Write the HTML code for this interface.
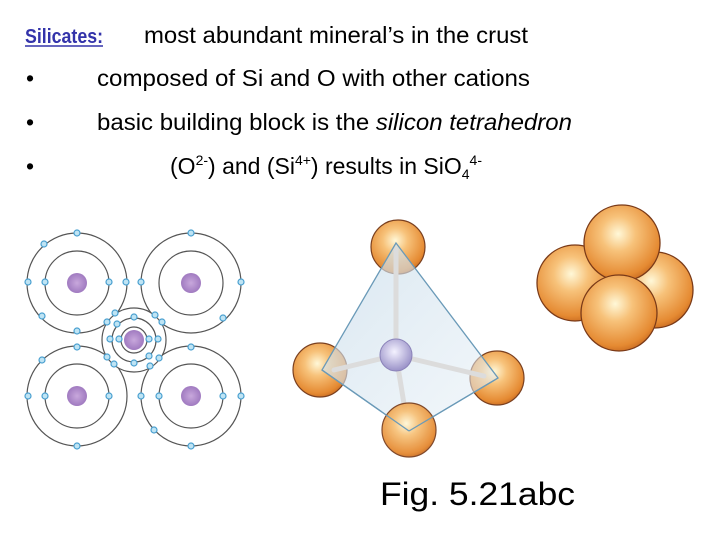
<!DOCTYPE html>
<html><head><meta charset="utf-8"><style>
html,body{margin:0;padding:0;background:#fff;}
svg{display:block}
</style></head><body>
<svg width="720" height="540" viewBox="0 0 720 540" xmlns="http://www.w3.org/2000/svg">
<defs>
<radialGradient id="og" cx="0.45" cy="0.38" r="0.65">
<stop offset="0" stop-color="#fff8d8"/><stop offset="0.35" stop-color="#f7c27a"/><stop offset="0.85" stop-color="#e58a32"/><stop offset="1" stop-color="#c86a20"/>
</radialGradient>
<radialGradient id="sg" cx="0.45" cy="0.4" r="0.6">
<stop offset="0" stop-color="#f4f2ff"/><stop offset="1" stop-color="#9a92c8"/>
</radialGradient>
<radialGradient id="ng" cx="0.5" cy="0.5" r="0.5">
<stop offset="0" stop-color="#c8a8dc"/><stop offset="1" stop-color="#a07ac0"/>
</radialGradient>
<linearGradient id="tg" x1="0" y1="0" x2="1" y2="1">
<stop offset="0" stop-color="#c8dcea" stop-opacity="0.7"/><stop offset="1" stop-color="#e6eff6" stop-opacity="0.5"/>
</linearGradient>
</defs>

<g font-family="Liberation Sans, Arial, sans-serif" font-size="23" fill="#000">
<text x="25" y="43" fill="#3333aa" font-weight="bold" font-size="20" textLength="78" lengthAdjust="spacingAndGlyphs">Silicates:</text>
<line x1="25" y1="46" x2="103" y2="46" stroke="#3333aa" stroke-width="1.5"/>
<text x="144" y="43" textLength="384" lengthAdjust="spacingAndGlyphs">most abundant mineral’s in the crust</text>
<text x="26" y="86">•</text>
<text x="97" y="86" textLength="433" lengthAdjust="spacingAndGlyphs">composed of Si and O with other cations</text>
<text x="26" y="130">•</text>
<text x="97" y="130" textLength="475" lengthAdjust="spacingAndGlyphs">basic building block is the <tspan font-style="italic">silicon tetrahedron</tspan></text>
<text x="26" y="174">•</text>
<text x="170" y="174">(O<tspan font-size="14" dy="-9">2-</tspan><tspan dy="9">) and (Si</tspan><tspan font-size="14" dy="-9">4+</tspan><tspan dy="9">) results in SiO</tspan><tspan font-size="14" dy="5">4</tspan><tspan font-size="14" dy="-14">4-</tspan></text>
<text x="380" y="505" font-size="32" textLength="195" lengthAdjust="spacingAndGlyphs">Fig. 5.21abc</text>
</g>

<!-- atoms -->
<g fill="none" stroke="#555" stroke-width="1.2">
<circle cx="77" cy="283" r="50"/><circle cx="77" cy="283" r="32"/>
<circle cx="191" cy="283" r="50"/><circle cx="191" cy="283" r="32"/>
<circle cx="77" cy="396" r="50"/><circle cx="77" cy="396" r="32"/>
<circle cx="191" cy="396" r="50"/><circle cx="191" cy="396" r="32"/>
<circle cx="134" cy="340" r="32" fill="#fff"/><circle cx="134" cy="340" r="22"/><circle cx="134" cy="340" r="13"/>
</g>
<g fill="url(#ng)">
<circle cx="77" cy="283" r="10"/><circle cx="191" cy="283" r="10"/><circle cx="77" cy="396" r="10"/><circle cx="191" cy="396" r="10"/><circle cx="134" cy="340" r="10"/>
</g>
<g fill="#bfe4f4" stroke="#4aa0d0" stroke-width="1.2">
<circle cx="77" cy="233" r="3"/><circle cx="44" cy="244" r="3"/><circle cx="28" cy="282" r="3"/><circle cx="42" cy="316" r="3"/><circle cx="77" cy="331" r="3"/><circle cx="126" cy="282" r="3"/><circle cx="45" cy="282" r="3"/><circle cx="109" cy="282" r="3"/>
<circle cx="191" cy="233" r="3"/><circle cx="141" cy="282" r="3"/><circle cx="241" cy="282" r="3"/><circle cx="223" cy="318" r="3"/>
<circle cx="77" cy="347" r="3"/><circle cx="42" cy="360" r="3"/><circle cx="28" cy="396" r="3"/><circle cx="77" cy="446" r="3"/><circle cx="45" cy="396" r="3"/><circle cx="109" cy="396" r="3"/>
<circle cx="191" cy="347" r="3"/><circle cx="141" cy="396" r="3"/><circle cx="241" cy="396" r="3"/><circle cx="154" cy="430" r="3"/><circle cx="191" cy="446" r="3"/><circle cx="159" cy="396" r="3"/><circle cx="223" cy="396" r="3"/>
<circle cx="115" cy="313" r="3"/><circle cx="107" cy="322" r="3"/><circle cx="117" cy="324" r="3"/><circle cx="134" cy="317" r="3"/><circle cx="155" cy="315" r="3"/><circle cx="162" cy="322" r="3"/><circle cx="110" cy="339" r="3"/><circle cx="119" cy="339" r="3"/><circle cx="149" cy="339" r="3"/><circle cx="158" cy="339" r="3"/><circle cx="107" cy="357" r="3"/><circle cx="114" cy="364" r="3"/><circle cx="134" cy="363" r="3"/><circle cx="149" cy="356" r="3"/><circle cx="159" cy="358" r="3"/><circle cx="150" cy="366" r="3"/>
</g>

<!-- tetrahedron -->
<g stroke="#7a4020" stroke-width="1.2">
<circle cx="398" cy="247" r="27" fill="url(#og)"/>
<circle cx="320" cy="370" r="27" fill="url(#og)"/>
<circle cx="497" cy="378" r="27" fill="url(#og)"/>
</g>
<polygon points="396,243 322,370 409,431 498,378" fill="url(#tg)" stroke="#6a9ab8" stroke-width="1.3"/>
<g stroke="#dcdcdc" stroke-width="5" stroke-linecap="round">
<line x1="396" y1="250" x2="396" y2="355"/><line x1="334" y1="370" x2="396" y2="355"/><line x1="484" y1="376" x2="396" y2="355"/><line x1="405" y1="410" x2="396" y2="355"/>
</g>
<circle cx="396" cy="355" r="16" fill="url(#sg)" stroke="#8a82b8"/>
<circle cx="409" cy="430" r="27" fill="url(#og)" stroke="#7a4020" stroke-width="1.2" opacity="0.95"/>
<line x1="409" y1="431" x2="498" y2="378" stroke="#6a9ab8" stroke-width="1.3"/>
<line x1="409" y1="431" x2="322" y2="370" stroke="#6a9ab8" stroke-width="1.3"/>

<!-- space filled -->
<g stroke="#7a3a18" stroke-width="1.3" fill="url(#og)">
<circle cx="575" cy="283" r="38"/>
<circle cx="655" cy="290" r="38"/>
<circle cx="622" cy="243" r="38"/>
<circle cx="619" cy="313" r="38"/>
</g>
</svg>
</body></html>
